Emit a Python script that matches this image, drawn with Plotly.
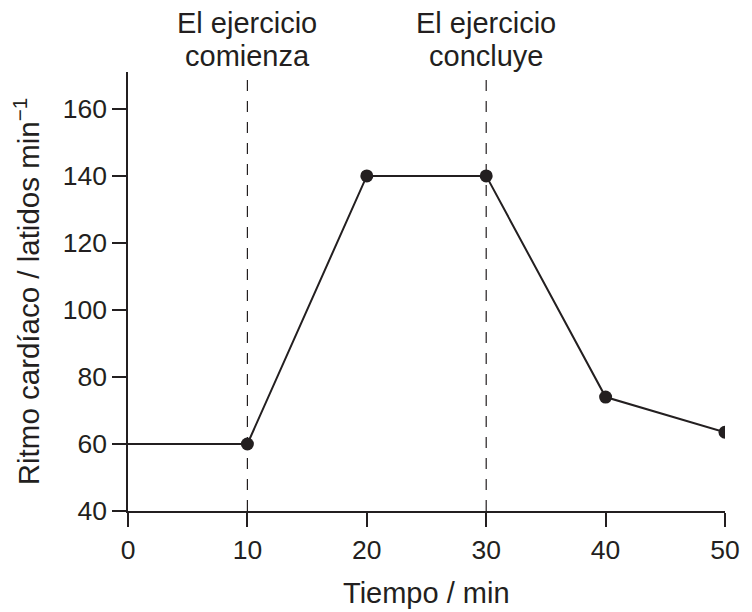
import plotly.graph_objects as go

tiempo = [0, 10, 20, 30, 40, 50]
ritmo = [60, 60, 140, 140, 74, 63.5]
marcadores_x = [10, 20, 30, 40, 50]
marcadores_y = [60, 140, 140, 74, 63.5]
eventos_x = [10, 30]
eventos_linea1 = ["El ejercicio", "El ejercicio"]
eventos_linea2 = ["comienza", "concluye"]
x_ticks = [0, 10, 20, 30, 40, 50]
y_ticks = [40, 60, 80, 100, 120, 140, 160]

ink = "#231f20"
fam = "Liberation Sans, Arial, sans-serif"
tick_font = dict(family=fam, size=26.5, color=ink)
big_font = dict(family=fam, size=29, color=ink)
ytitle_font = dict(family=fam, size=29.5, color=ink)

fig = go.Figure()
fig.add_trace(go.Scatter(x=tiempo, y=ritmo, mode="lines",
                         line=dict(color=ink, width=2), showlegend=False, hoverinfo="skip"))
fig.add_trace(go.Scatter(x=marcadores_x, y=marcadores_y, mode="markers",
                         marker=dict(color=ink, size=13), showlegend=False))

for xe, l1, l2 in zip(eventos_x, eventos_linea1, eventos_linea2):
    fig.add_shape(type="line", x0=xe, x1=xe, y0=40, y1=169, xref="x", yref="y",
                  line=dict(color=ink, width=1.2, dash="11px,10px"), layer="below")
    fig.add_annotation(x=xe, xref="x", y=1, yref="paper", yanchor="bottom",
                       text=l1, showarrow=False, font=big_font, yshift=31)
    fig.add_annotation(x=xe, xref="x", y=1, yref="paper", yanchor="bottom",
                       text=l2, showarrow=False, font=big_font, yshift=-2)

fig.add_annotation(x=0.5, xref="paper", y=-0.187, yref="paper", yanchor="middle",
                   text="Tiempo / min", showarrow=False, font=big_font)

fig.update_layout(
    width=744, height=604,
    margin=dict(l=120, r=19, t=64, b=101),
    paper_bgcolor="white", plot_bgcolor="white",
    font=tick_font,
    xaxis=dict(range=[0, 50], tickvals=x_ticks, showgrid=False, zeroline=False,
               showline=True, linecolor=ink, linewidth=1.5,
               ticks="outside", ticklen=14, tickwidth=1.5, tickcolor=ink,
               tickfont=tick_font),
    yaxis=dict(range=[40, 171], tickvals=y_ticks, showgrid=False, zeroline=False,
               showline=True, linecolor=ink, linewidth=1.5,
               ticks="outside", ticklen=14, tickwidth=1.5, tickcolor=ink,
               tickfont=tick_font,
               title=dict(text="Ritmo cardíaco / latidos min<sup>−1</sup>", font=ytitle_font, standoff=20)),
)

fig.write_html("out.html")
